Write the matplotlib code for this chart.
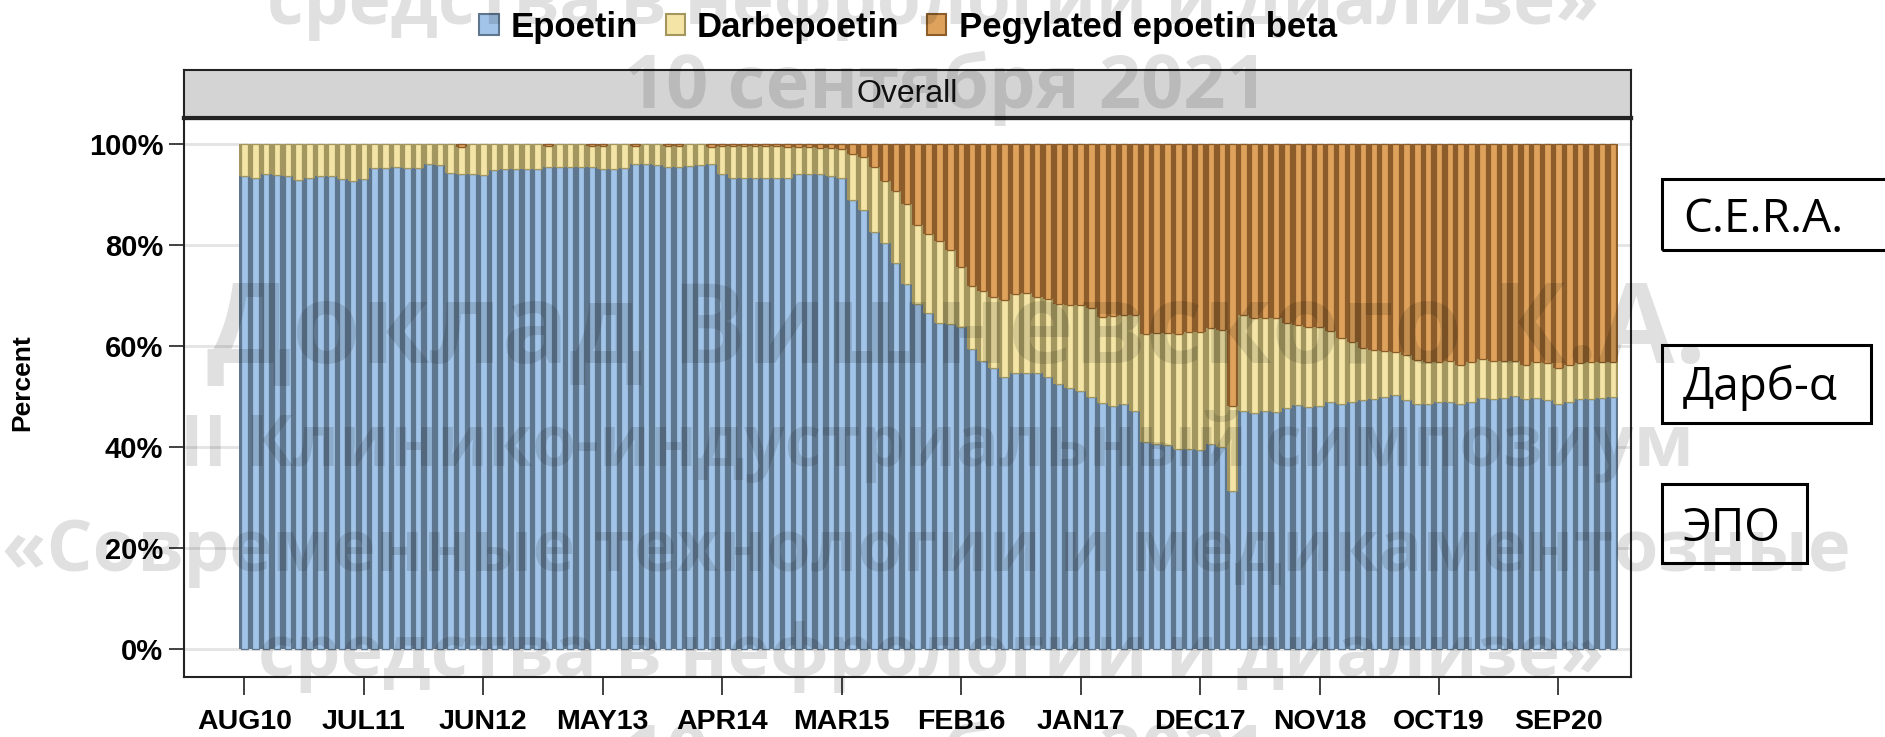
import matplotlib
matplotlib.use("Agg")
import matplotlib.pyplot as plt
from matplotlib.patches import Patch, Rectangle
import numpy as np
import pandas as pd

# ---------------- data ----------------
months = [p.strftime("%b%y").upper() for p in pd.period_range("2010-08", periods=127, freq="M")]
tick_labels = ["AUG10", "JUL11", "JUN12", "MAY13", "APR14", "MAR15",
               "FEB16", "JAN17", "DEC17", "NOV18", "OCT19", "SEP20"]
series_names = ["Epoetin", "Darbepoetin", "Pegylated epoetin beta"]

epoetin = [
    93.7, 93.3, 94.1, 93.8, 93.7, 92.9, 93.3, 93.6, 93.6, 93.0,
    92.7, 93.0, 95.2, 95.2, 95.4, 95.2, 95.2, 96.0, 95.8, 94.2,
    94.0, 94.0, 93.9, 94.9, 95.1, 95.0, 95.0, 95.1, 95.5, 95.5,
    95.4, 95.5, 95.4, 95.1, 95.1, 95.3, 96.0, 96.0, 95.8, 95.5,
    95.5, 95.7, 95.8, 96.0, 94.0, 93.2, 93.2, 93.2, 93.2, 93.2,
    93.3, 94.0, 94.0, 94.0, 93.7, 93.2, 88.9, 86.9, 82.6, 80.3,
    76.5, 72.2, 68.4, 66.6, 64.6, 64.4, 63.8, 59.5, 57.0, 55.6,
    53.9, 54.7, 54.7, 54.7, 53.8, 52.4, 51.6, 51.1, 50.0, 48.7,
    48.1, 48.5, 47.1, 40.9, 40.5, 40.3, 39.7, 39.7, 39.4, 40.5,
    40.0, 31.2, 47.1, 46.7, 47.1, 46.9, 47.8, 48.3, 48.0, 48.1,
    49.0, 48.6, 49.0, 49.4, 49.6, 50.0, 50.3, 49.3, 48.5, 48.5,
    49.0, 49.0, 48.6, 49.0, 49.8, 49.6, 49.8, 50.1, 49.6, 49.8,
    49.3, 48.6, 49.0, 49.6, 49.6, 49.7, 50.0,
]
darbepoetin = [
    6.3, 6.7, 5.9, 6.2, 6.3, 7.1, 6.7, 6.4, 6.4, 7.0,
    7.3, 7.0, 4.8, 4.8, 4.6, 4.8, 4.8, 4.0, 4.2, 5.8,
    5.5, 6.0, 6.1, 5.1, 4.9, 5.0, 5.0, 4.9, 4.1, 4.5,
    4.6, 4.5, 4.2, 4.6, 4.9, 4.7, 3.6, 4.0, 4.2, 4.1,
    4.1, 4.3, 4.2, 3.4, 5.6, 6.5, 6.5, 6.5, 6.5, 6.5,
    6.2, 5.5, 5.5, 5.3, 5.5, 5.8, 9.1, 10.6, 12.9, 12.4,
    14.1, 15.9, 15.6, 15.6, 16.1, 14.6, 11.9, 12.3, 13.8, 14.2,
    15.3, 15.5, 15.7, 15.1, 15.6, 16.0, 16.6, 17.0, 17.6, 17.1,
    17.8, 17.6, 19.0, 21.4, 22.1, 22.3, 22.6, 23.1, 23.4, 23.1,
    23.2, 17.0, 19.0, 18.9, 18.5, 18.6, 16.8, 15.9, 15.8, 15.7,
    14.0, 12.9, 11.7, 10.3, 9.6, 9.0, 8.6, 8.9, 8.8, 8.4,
    7.9, 8.0, 7.6, 7.8, 7.7, 7.4, 7.2, 6.9, 6.6, 7.1,
    7.3, 7.0, 7.2, 7.0, 7.3, 7.2, 6.9,
]
pegylated = [
    0.0, 0.0, 0.0, 0.0, 0.0, 0.0, 0.0, 0.0, 0.0, 0.0,
    0.0, 0.0, 0.0, 0.0, 0.0, 0.0, 0.0, 0.0, 0.0, 0.0,
    0.5, 0.0, 0.0, 0.0, 0.0, 0.0, 0.0, 0.0, 0.4, 0.0,
    0.0, 0.0, 0.4, 0.3, 0.0, 0.0, 0.4, 0.0, 0.0, 0.4,
    0.4, 0.0, 0.0, 0.6, 0.4, 0.3, 0.3, 0.3, 0.3, 0.3,
    0.5, 0.5, 0.5, 0.7, 0.8, 1.0, 2.0, 2.5, 4.5, 7.3,
    9.4, 11.9, 16.0, 17.8, 19.3, 21.0, 24.3, 28.2, 29.2, 30.2,
    30.8, 29.8, 29.6, 30.2, 30.6, 31.6, 31.8, 31.9, 32.4, 34.2,
    34.1, 33.9, 33.9, 37.7, 37.4, 37.4, 37.7, 37.2, 37.2, 36.4,
    36.8, 51.8, 33.9, 34.4, 34.4, 34.5, 35.4, 35.8, 36.2, 36.2,
    37.0, 38.5, 39.3, 40.3, 40.8, 41.0, 41.1, 41.8, 42.7, 43.1,
    43.1, 43.0, 43.8, 43.2, 42.5, 43.0, 43.0, 43.0, 43.8, 43.1,
    43.4, 44.4, 43.8, 43.4, 43.1, 43.1, 43.1,
]
y_ticks = [0, 20, 40, 60, 80, 100]
y_ticklabels = ["0%", "20%", "40%", "60%", "80%", "100%"]

watermark_lines = [
    "средства в нефрологии и диализе»",
    "10 сентября 2021",
    "Доклад Вишневского К.А.",
    "II Клинико-индустриальный симпозиум",
    "«Современные технологии и медикаментозные",
    "средства в нефрологии и диализе»",
    "10 сентября 2021",
]
annot_labels = ["C.E.R.A.", "Дарб-α", "ЭПО"]

# ---------------- layout ----------------
W, H = 1885, 737
fig = plt.figure(figsize=(W / 100, H / 100), dpi=100)
fig.patch.set_facecolor("white")

def fx(px):
    return px / W

def fy(py):
    return 1 - py / H

ax_l, ax_r, ax_t, ax_b = 184, 1631, 118, 677
ax = fig.add_axes([fx(ax_l), fy(ax_b), (ax_r - ax_l) / W, (ax_b - ax_t) / H])
hdr = fig.add_axes([fx(ax_l), fy(ax_t), (ax_r - ax_l) / W, (ax_t - 70) / H])

fills = ["#A1C4E8", "#F4E5A6", "#DEA25C"]
darks = ["#5F778E", "#A3975F", "#8C5D2A"]

x = np.arange(len(months))
data = [np.array(epoetin), np.array(darbepoetin), np.array(pegylated)]
bottom = np.zeros(len(months))
for vals, fc, dc in zip(data, fills, darks):
    lw = np.where(vals > 0, 0.9, 0.0)
    ax.bar(x, vals, bottom=bottom, width=1.0, color=dc, linewidth=0, zorder=2)
    ax.bar(x, vals, bottom=bottom, width=0.6, color=fc, edgecolor=dc,
           linewidth=lw, zorder=3)
    bottom = bottom + vals

# y scale: 100% at y=144px, 0% at 649px
ppu = (649 - 144) / 100.0
ax.set_ylim(-(ax_b - 649) / ppu, 100 + (144 - ax_t) / ppu)
bar_w = 10.86
x0c = 244.4
ax.set_xlim((ax_l - x0c) / bar_w, (ax_r - x0c) / bar_w)

ax.set_yticks(y_ticks)
ax.set_yticklabels(y_ticklabels)
tick_pos = [months.index(t) for t in tick_labels]
ax.set_xticks(tick_pos)
ax.set_xticklabels(tick_labels)
for lab in ax.get_xticklabels():
    lab.set_fontfamily("Liberation Sans")
    lab.set_fontweight("bold")
    lab.set_fontsize(20.5)
for lab in ax.get_yticklabels():
    lab.set_fontfamily("Liberation Sans")
    lab.set_fontweight("bold")
    lab.set_fontsize(21)
ax.tick_params(axis="y", length=11, width=1.3, pad=4, color="#333333")
ax.tick_params(axis="x", length=13, width=1.3, pad=10, color="#333333")
ax.grid(axis="y", color="#E4E4E4", linewidth=2, zorder=0)
ax.set_axisbelow(True)
for s in ax.spines.values():
    s.set_color("#222222")
    s.set_linewidth(1.5)
ax.spines["top"].set_linewidth(3)

hdr.set_facecolor("#D4D4D4")
hdr.set_xticks([])
hdr.set_yticks([])
for s in hdr.spines.values():
    s.set_color("#222222")
    s.set_linewidth(1.5)
hdr.spines["bottom"].set_linewidth(3)
hdr.text(0.5, 0.5, "Overall", ha="center", va="center", fontsize=23,
         family="Liberation Sans", color="#111111", transform=hdr.transAxes)

fig.text(fx(22), fy(383), "Percent", rotation=90, ha="center", va="center",
         fontsize=19, family="Liberation Sans", weight="bold")

handles = [Patch(facecolor=fc, edgecolor=dc, linewidth=1.5, label=n)
           for fc, dc, n in zip(fills, darks, series_names)]
fig.legend(handles=handles, loc="center", bbox_to_anchor=(fx(908), fy(27)),
           ncol=3, frameon=False,
           prop=dict(family="Liberation Sans", weight="bold", size=25),
           handlelength=0.55, handleheight=0.55, columnspacing=0.8,
           handletextpad=0.35)

# annotation boxes on the right
boxes = [(1662, 179, 1905, 250, 232), (1662, 345, 1871, 423, 400),
         (1662, 484, 1807, 563, 541)]
for (l, t, r, b, base), lab in zip(boxes, annot_labels):
    rect = Rectangle((fx(l), fy(b)), (r - l) / W, (b - t) / H,
                     transform=fig.transFigure, fill=False,
                     edgecolor="black", linewidth=2.2, zorder=5)
    fig.add_artist(rect)
    fig.text(fx(1683), fy(base), lab, ha="left", va="baseline",
             fontsize=33, family="Open Sans", color="black", zorder=6)

# watermark overlay
wm_geom = [(933, 24, 1332), (946, 108, 643), (957, 363, 1500),
           (937, 466, 1515), (926, 571, 1851), (931, 676, 1347),
           (946, 778, 643)]
fig.canvas.draw()
renderer = fig.canvas.get_renderer()
for txt, (cx, base, width) in zip(watermark_lines, wm_geom):
    t = fig.text(fx(cx), fy(base), txt, ha="center", va="baseline",
                 fontsize=60, family="Open Sans", weight="bold",
                 color="black", alpha=0.12, zorder=20)
    bb = t.get_window_extent(renderer)
    t.set_fontsize(60 * width / bb.width)

fig.savefig("out.png", dpi=100)
